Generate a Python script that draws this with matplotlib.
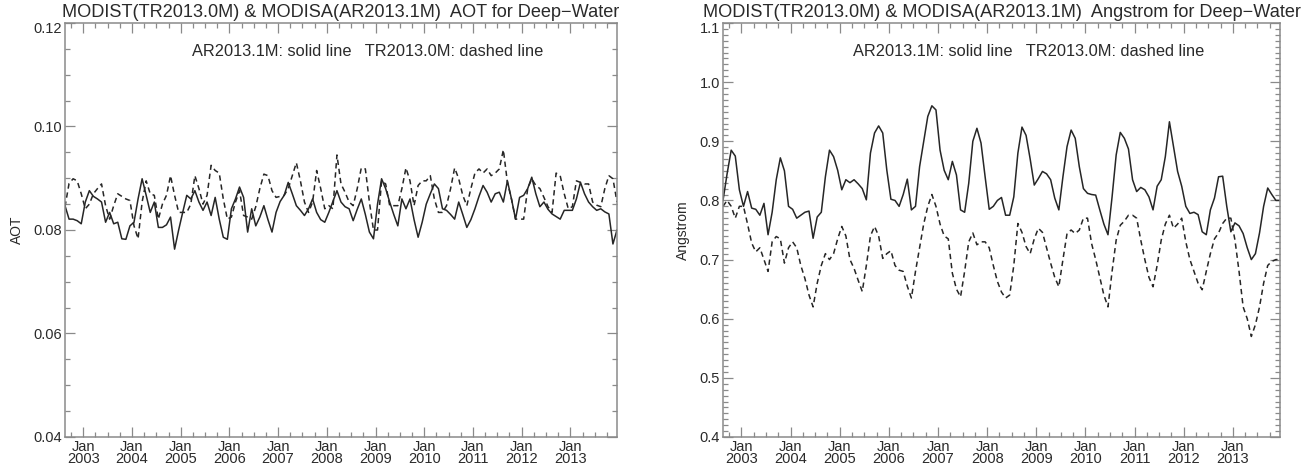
import numpy as np
import matplotlib
matplotlib.use("Agg")
import matplotlib.pyplot as plt
from matplotlib.ticker import MultipleLocator, FixedLocator, FormatStrFormatter
from matplotlib.transforms import ScaledTranslation

plt.rcParams['font.family'] = ['Liberation Sans', 'DejaVu Sans']

# ---- data (monthly, Aug 2002 .. Dec 2013) ----
start_year = 2002
start_month = 8
n_months = 137

aot_ar = [0.0847, 0.0821, 0.0821, 0.0818, 0.0812, 0.0854, 0.0876, 0.0865, 0.0860, 0.0854,
          0.0815, 0.0834, 0.0812, 0.0815, 0.0783, 0.0782, 0.0808, 0.0815, 0.0860, 0.0899,
          0.0867, 0.0834, 0.0854, 0.0805, 0.0805, 0.0810, 0.0825, 0.0763, 0.0800, 0.0834,
          0.0867, 0.0860, 0.0876, 0.0854, 0.0838, 0.0854, 0.0828, 0.0863, 0.0821, 0.0786,
          0.0782, 0.0841, 0.0860, 0.0883, 0.0863, 0.0796, 0.0841, 0.0808, 0.0825, 0.0847,
          0.0820, 0.0796, 0.0834, 0.0855, 0.0867, 0.0892, 0.0870, 0.0847, 0.0838, 0.0828,
          0.0841, 0.0860, 0.0834, 0.0820, 0.0815, 0.0834, 0.0855, 0.0876, 0.0854, 0.0845,
          0.0841, 0.0818, 0.0840, 0.0860, 0.0830, 0.0796, 0.0783, 0.0850, 0.0899, 0.0880,
          0.0854, 0.0830, 0.0808, 0.0860, 0.0841, 0.0860, 0.0820, 0.0786, 0.0815, 0.0850,
          0.0870, 0.0889, 0.0880, 0.0841, 0.0838, 0.0830, 0.0821, 0.0854, 0.0830, 0.0805,
          0.0820, 0.0841, 0.0865, 0.0886, 0.0873, 0.0854, 0.0870, 0.0873, 0.0854, 0.0895,
          0.0860, 0.0821, 0.0863, 0.0867, 0.0880, 0.0902, 0.0870, 0.0845, 0.0854, 0.0840,
          0.0831, 0.0826, 0.0821, 0.0838, 0.0838, 0.0838, 0.0860, 0.0892, 0.0870, 0.0854,
          0.0845, 0.0838, 0.0841, 0.0835, 0.0831, 0.0773, 0.0800]

aot_tr = [0.0845, 0.0890, 0.0899, 0.0895, 0.0870, 0.0841, 0.0850, 0.0870, 0.0880, 0.0889,
          0.0847, 0.0821, 0.0847, 0.0870, 0.0865, 0.0860, 0.0857, 0.0808, 0.0783, 0.0854,
          0.0895, 0.0870, 0.0867, 0.0821, 0.0850, 0.0867, 0.0905, 0.0867, 0.0834, 0.0834,
          0.0834, 0.0850, 0.0905, 0.0880, 0.0850, 0.0867, 0.0925, 0.0915, 0.0910, 0.0860,
          0.0821, 0.0825, 0.0854, 0.0876, 0.0828, 0.0825, 0.0821, 0.0845, 0.0880, 0.0908,
          0.0905, 0.0876, 0.0863, 0.0865, 0.0867, 0.0880, 0.0905, 0.0930, 0.0895, 0.0854,
          0.0834, 0.0854, 0.0915, 0.0880, 0.0841, 0.0847, 0.0841, 0.0945, 0.0889, 0.0873,
          0.0854, 0.0847, 0.0880, 0.0920, 0.0918, 0.0854, 0.0800, 0.0800, 0.0895, 0.0889,
          0.0847, 0.0847, 0.0847, 0.0880, 0.0920, 0.0895, 0.0847, 0.0886, 0.0895, 0.0895,
          0.0905, 0.0860, 0.0834, 0.0834, 0.0847, 0.0880, 0.0920, 0.0899, 0.0867, 0.0847,
          0.0880, 0.0910, 0.0918, 0.0910, 0.0918, 0.0905, 0.0910, 0.0918, 0.0955, 0.0892,
          0.0860, 0.0821, 0.0821, 0.0821, 0.0880, 0.0899, 0.0886, 0.0880, 0.0863, 0.0845,
          0.0834, 0.0910, 0.0905, 0.0870, 0.0841, 0.0845, 0.0895, 0.0892, 0.0889, 0.0889,
          0.0854, 0.0848, 0.0845, 0.0880, 0.0905, 0.0899, 0.0854]

ang_ar = [0.800, 0.845, 0.885, 0.875, 0.818, 0.790, 0.815, 0.787, 0.785, 0.775,
          0.795, 0.742, 0.780, 0.835, 0.872, 0.850, 0.790, 0.785, 0.770, 0.775,
          0.780, 0.782, 0.736, 0.772, 0.780, 0.840, 0.885, 0.874, 0.851, 0.818,
          0.835, 0.830, 0.835, 0.828, 0.820, 0.801, 0.880, 0.914, 0.926, 0.914,
          0.851, 0.802, 0.800, 0.790, 0.810, 0.836, 0.784, 0.790, 0.857, 0.900,
          0.942, 0.960, 0.953, 0.885, 0.851, 0.835, 0.866, 0.843, 0.784, 0.780,
          0.829, 0.900, 0.922, 0.897, 0.840, 0.785, 0.790, 0.800, 0.805, 0.775,
          0.775, 0.806, 0.880, 0.924, 0.910, 0.870, 0.826, 0.837, 0.849, 0.845,
          0.835, 0.804, 0.784, 0.840, 0.891, 0.919, 0.905, 0.857, 0.820, 0.812,
          0.810, 0.809, 0.784, 0.760, 0.742, 0.806, 0.877, 0.915, 0.905, 0.887,
          0.835, 0.815, 0.822, 0.818, 0.806, 0.784, 0.824, 0.835, 0.874, 0.933,
          0.891, 0.849, 0.824, 0.790, 0.778, 0.780, 0.776, 0.747, 0.742, 0.784,
          0.804, 0.840, 0.841, 0.790, 0.747, 0.762, 0.757, 0.744, 0.720, 0.700,
          0.710, 0.745, 0.790, 0.821, 0.810, 0.800, 0.800]

ang_tr = [0.790, 0.800, 0.790, 0.770, 0.790, 0.790, 0.760, 0.728, 0.713, 0.720,
          0.700, 0.680, 0.730, 0.739, 0.735, 0.694, 0.720, 0.730, 0.720, 0.690,
          0.668, 0.640, 0.620, 0.660, 0.690, 0.710, 0.700, 0.710, 0.735, 0.756,
          0.740, 0.700, 0.685, 0.665, 0.646, 0.690, 0.740, 0.756, 0.740, 0.702,
          0.710, 0.715, 0.690, 0.682, 0.680, 0.655, 0.635, 0.680, 0.720, 0.760,
          0.790, 0.810, 0.790, 0.760, 0.740, 0.735, 0.677, 0.650, 0.637, 0.680,
          0.730, 0.745, 0.725, 0.730, 0.730, 0.720, 0.690, 0.663, 0.645, 0.635,
          0.640, 0.690, 0.761, 0.746, 0.722, 0.710, 0.735, 0.753, 0.746, 0.720,
          0.694, 0.670, 0.654, 0.700, 0.744, 0.750, 0.744, 0.750, 0.770, 0.770,
          0.727, 0.700, 0.670, 0.640, 0.620, 0.680, 0.733, 0.758, 0.765, 0.775,
          0.775, 0.770, 0.733, 0.700, 0.670, 0.654, 0.690, 0.733, 0.760, 0.775,
          0.753, 0.760, 0.770, 0.730, 0.700, 0.680, 0.660, 0.649, 0.680, 0.710,
          0.735, 0.745, 0.761, 0.770, 0.770, 0.733, 0.680, 0.620, 0.600, 0.570,
          0.590, 0.620, 0.660, 0.690, 0.697, 0.700, 0.700]

years = list(range(2003, 2014))
title_left = "MODIST(TR2013.0M) & MODISA(AR2013.1M)  AOT for Deep\u2212Water"
title_right = "MODIST(TR2013.0M) & MODISA(AR2013.1M)  Angstrom for Deep\u2212Water"
note = "AR2013.1M: solid line   TR2013.0M: dashed line"

# month-centre positions in decimal years
t = start_year + (start_month - 1 + np.arange(n_months) + 0.5) / 12.0

W, H = 1309, 467
fig = plt.figure(figsize=(W / 100, H / 100), dpi=100)
ax1 = fig.add_axes([65 / W, 1 - 437 / H, 552 / W, 414 / H])
ax2 = fig.add_axes([723 / W, 1 - 437 / H, 557 / W, 414 / H])

line_c = '#262626'
spine_c = '#8a8a8a'
text_c = '#2a2a2a'


def style(ax, title, ylabel, lab_x, ytop):
    ax.set_xlim(t[0], t[-1])
    ax.xaxis.set_major_locator(FixedLocator(years))
    ax.xaxis.set_minor_locator(MultipleLocator(0.25))
    ax.set_xticklabels([f"Jan\n{y}" for y in years], fontsize=10.5,
                       linespacing=0.8, color=text_c)
    for lbl in ax.get_xticklabels():
        lbl.set_multialignment('center')
    for s in ax.spines.values():
        s.set_color(spine_c)
        s.set_linewidth(1.1)
    ax.tick_params(which='both', direction='in', top=True, right=True,
                   color=spine_c, width=0.9, labelcolor=text_c)
    ax.tick_params(which='major', length=7.5)
    ax.tick_params(which='minor', length=3.8)
    ax.tick_params(axis='x', pad=2)
    ax.tick_params(axis='y', labelsize=10.5, pad=2)
    ax.set_title(title, fontsize=13.1, pad=4, color=text_c)
    ax.set_ylabel(ylabel, fontsize=10, color=text_c)
    ax.yaxis.set_label_coords(lab_x, 0.5)
    ax.text(0.548, 0.93, note, transform=ax.transAxes, ha='center', va='center',
            fontsize=11.8, color=text_c)
    # top y tick label sits a little below its tick (as in the original)
    locs = ax.yaxis.get_major_locator()()
    ticks = ax.yaxis.get_major_ticks(len(locs))
    shift = ScaledTranslation(0, -5 / 100, fig.dpi_scale_trans)
    for tk, loc in zip(ticks, locs):
        if abs(loc - ytop) < 1e-9:
            tk.label1.set_transform(tk.label1.get_transform() + shift)


ax1.plot(t, aot_ar, color=line_c, lw=1.1)
ax1.plot(t, aot_tr, color=line_c, lw=1.1, linestyle=(0, (3.5, 2.5)))
ax1.set_ylim(0.04, 0.12)
ax1.yaxis.set_major_locator(MultipleLocator(0.02))
ax1.yaxis.set_minor_locator(MultipleLocator(0.005))
ax1.yaxis.set_major_formatter(FormatStrFormatter('%.2f'))
style(ax1, title_left, 'AOT', -0.075, 0.12)

ax2.plot(t, ang_ar, color=line_c, lw=1.1)
ax2.plot(t, ang_tr, color=line_c, lw=1.1, linestyle=(0, (3.5, 2.5)))
ax2.set_ylim(0.4, 1.1)
ax2.yaxis.set_major_locator(MultipleLocator(0.1))
ax2.yaxis.set_minor_locator(MultipleLocator(0.01))
ax2.yaxis.set_major_formatter(FormatStrFormatter('%.1f'))
style(ax2, title_right, 'Angstrom', -0.06, 1.1)

fig.savefig('out.png', dpi=100)
